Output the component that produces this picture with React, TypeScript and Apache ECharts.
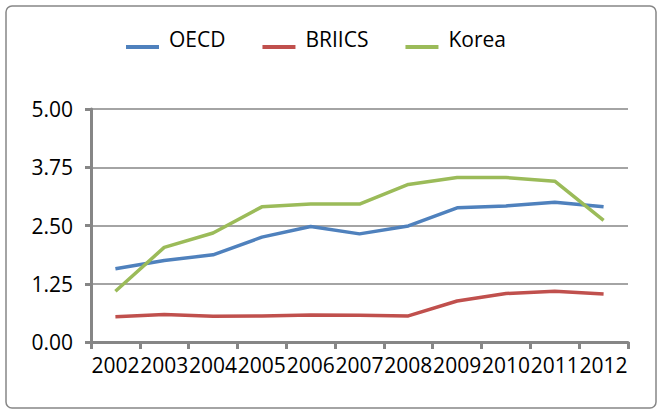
import React, { useEffect, useRef } from "react";
import * as echarts from "echarts";

const years = ["2002", "2003", "2004", "2005", "2006", "2007", "2008", "2009", "2010", "2011", "2012"];
const oecd = [1.57, 1.75, 1.87, 2.25, 2.48, 2.32, 2.49, 2.88, 2.92, 3.0, 2.9];
const briics = [0.54, 0.59, 0.555, 0.56, 0.58, 0.575, 0.56, 0.88, 1.04, 1.09, 1.03];
const korea = [1.09, 2.03, 2.34, 2.9, 2.96, 2.96, 3.38, 3.53, 3.53, 3.45, 2.61];

const FONT = "'Open Sans', 'Noto Sans', sans-serif";
const AXIS_COLOR = "#868686";
const LEGEND_ICON = "path://M0,0 L33,0 L33,0.01 L0,0.01 Z M0,17 L33,17 L33,21 L0,21 Z";

export default function App() {
  const ref = useRef<HTMLDivElement>(null);
  useEffect(() => {
    if (!ref.current) return;
    const chart = echarts.init(ref.current, undefined, { renderer: "svg" });
    chart.setOption({
      animation: false,
      backgroundColor: "#ffffff",
      textStyle: { fontFamily: FONT },
      graphic: [
        {
          type: "rect",
          shape: { x: 6, y: 6, width: 650, height: 402, r: 6 },
          style: { fill: "none", stroke: AXIS_COLOR, lineWidth: 1.5 },
          silent: true,
        },
      ],
      legend: {
        left: 126,
        top: 28,
        padding: 0,
        itemWidth: 33,
        itemHeight: 21,
        itemGap: 37,
        icon: LEGEND_ICON,
        textStyle: {
          fontFamily: FONT,
          fontSize: 21,
          color: "#000",
          padding: [0, 0, 0, 5],
        },
        data: ["OECD", "BRIICS", "Korea"],
      },
      grid: { left: 91, right: 32, top: 109, bottom: 73, containLabel: false },
      xAxis: {
        type: "category",
        data: years,
        boundaryGap: true,
        axisLine: { lineStyle: { color: AXIS_COLOR, width: 3 } },
        axisTick: { show: true, length: 7, lineStyle: { color: AXIS_COLOR, width: 3 } },
        axisLabel: { interval: 0, fontSize: 21, color: "#000", margin: 12, fontFamily: FONT },
        splitLine: { show: false },
      },
      yAxis: {
        type: "value",
        min: 0,
        max: 5,
        interval: 1.25,
        axisLine: { show: true, lineStyle: { color: AXIS_COLOR, width: 3 } },
        axisTick: { show: true, length: 6, lineStyle: { color: AXIS_COLOR, width: 3 } },
        axisLabel: {
          fontSize: 21,
          color: "#000",
          margin: 18,
          fontFamily: FONT,
          formatter: (v: number) => v.toFixed(2),
        },
        splitLine: { lineStyle: { color: AXIS_COLOR, width: 1.5 } },
      },
      series: [
        { name: "OECD", type: "line", data: oecd, symbol: "none", lineStyle: { width: 3.5, color: "#4F81BD" }, itemStyle: { color: "#4F81BD" } },
        { name: "BRIICS", type: "line", data: briics, symbol: "none", lineStyle: { width: 3.5, color: "#C0504D" }, itemStyle: { color: "#C0504D" } },
        { name: "Korea", type: "line", data: korea, symbol: "none", lineStyle: { width: 3.5, color: "#9BBB59" }, itemStyle: { color: "#9BBB59" } },
      ],
    });
    return () => chart.dispose();
  }, []);
  return <div ref={ref} style={{ width: 660, height: 415, position: "absolute", left: 0, top: 0 }} />;
}
